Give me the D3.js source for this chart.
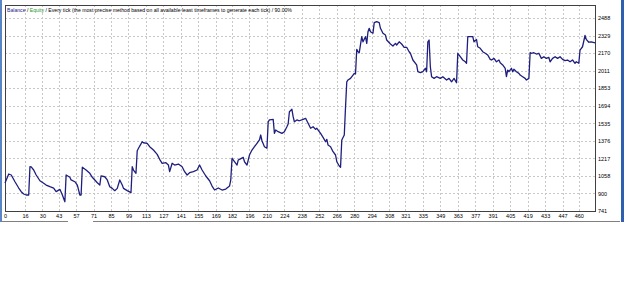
<!DOCTYPE html>
<html>
<head>
<meta charset="utf-8">
<script src="https://cdn.jsdelivr.net/npm/d3@7"></script>
<style>
  body { margin: 0; background: #fff; }
  svg { display: block; font-family: "Liberation Sans", Arial, sans-serif; }
</style>
</head>
<body>
<div id="chart"></div>
<script>
// balance curve (trade number -> balance)
let trades = [0,3,5,8,11,13,15,17,19,20,21,23,25,28,31,33,36,39,41,44,46,48,49,52,53,56,58,60,61,62,65,68,70,72,74,76,77,80,82,84,86,88,90,92,94,95,98,101,102,103,105,106,108,110,111,114,116,119,122,124,126,129,131,132,134,136,139,142,144,146,148,151,154,156,158,161,164,166,168,171,174,177,180,181,182,184,186,187,188,191,192,194,196,198,200,202,204,205,206,208,210,211,212,215,216,217,219,222,224,226,227,228,230,231,232,234,236,239,241,243,245,247,249,250,253,255,257,258,259,261,263,265,266,268,269,270,272,273,274,275,277,279,280,281,282,283,284,286,287,289,290,291,292,293,295,296,298,300,301,303,305,306,309,311,313,314,316,318,320,322,324,325,327,330,331,333,335,337,338,339,340,341,342,344,346,349,351,354,356,358,360,362,363,365,367,369,370,371,373,375,376,378,379,381,383,385,387,389,390,392,393,394,396,397,399,401,402,403,404,406,407,408,410,412,413,415,417,418,420,421,422,424,426,428,430,432,434,436,437,439,441,443,445,447,449,451,453,455,457,458,460,461,463,465,466,468,470,473];
let balance = [994,1076,1067,1006,949,916,895,886,886,1142,1140,1112,1067,1015,992,976,961,949,916,937,886,825,1067,1046,1022,1006,976,886,886,1137,1112,1082,1046,1022,997,976,1058,1051,1022,961,946,925,946,1022,976,946,925,907,1142,1112,1082,1287,1329,1368,1359,1354,1323,1293,1254,1209,1173,1178,1157,1097,1173,1157,1166,1142,1097,1067,1088,1097,1112,1157,1112,1058,1015,967,931,949,931,940,967,1022,1218,1187,1157,1203,1209,1227,1187,1157,1248,1293,1323,1354,1384,1429,1377,1323,1309,1549,1565,1571,1444,1474,1459,1444,1459,1504,1529,1640,1662,1595,1549,1565,1558,1571,1580,1535,1490,1504,1480,1490,1444,1408,1368,1390,1338,1323,1278,1248,1187,1148,1137,1384,1429,1682,1911,1927,1942,1972,1987,1981,2205,2183,2174,2319,2273,2319,2259,2364,2395,2364,2350,2446,2455,2446,2395,2350,2334,2289,2253,2235,2259,2244,2273,2253,2223,2223,2183,2169,2108,2063,2002,1993,2002,2033,2002,2273,2289,2047,1957,1942,1957,1942,1957,1927,1942,1911,1942,1902,2169,2138,2108,2092,2078,2319,2319,2319,2273,2295,2228,2214,2183,2169,2153,2114,2108,2123,2108,2092,2108,2083,2063,2033,1957,2017,2002,2033,2002,2024,2002,1987,1972,1957,1942,1927,1942,2174,2169,2174,2162,2169,2123,2138,2123,2132,2092,2123,2138,2123,2138,2114,2102,2108,2092,2108,2078,2092,2078,2198,2228,2330,2295,2269,2273,2264];

let xTicks = [0,16,30,43,57,71,85,99,113,127,141,155,169,182,196,210,224,238,252,266,280,294,308,321,335,349,363,377,391,405,419,433,447,460];
let yTicks = [741,900,1058,1217,1376,1535,1694,1853,2011,2170,2329,2488];
let titleParts = [
  {text: "Balance", color: "#1a1a8c"},
  {text: " / ", color: "#000"},
  {text: "Equity", color: "#1f9a1f"},
  {text: " / Every tick (the most precise method based on all available least timeframes to generate each tick) / 90.00%", color: "#000"}
];

let width = 625, height = 281;
let plot = {left: 5, top: 5, right: 595, bottom: 211};

let svg = d3.select("#chart").append("svg")
    .attr("width", width)
    .attr("height", height);

let xScale = d3.scaleLinear().domain([0, 473]).range([plot.left, plot.right]);
let yScale = d3.scaleLinear().domain([741, 2606]).range([plot.bottom, plot.top]);

// window frame bits
svg.append("rect").attr("x", 0).attr("y", 0).attr("width", 2).attr("height", 222).attr("fill", "#5b86c5");
svg.append("rect").attr("x", 621).attr("y", 0).attr("width", 3).attr("height", 222).attr("fill", "#2f5fb0");
svg.append("line").attr("x1", 2).attr("x2", 68).attr("y1", 221.5).attr("y2", 221.5).attr("stroke", "#808080");
svg.append("line").attr("x1", 93).attr("x2", 620).attr("y1", 221.5).attr("y2", 221.5).attr("stroke", "#808080");

// grid
let grid = svg.append("g").attr("stroke", "#c8c8c8").attr("stroke-dasharray", "2,2").attr("stroke-width", 1);
grid.selectAll(".vg").data(xTicks.slice(1)).enter().append("line")
    .attr("x1", d => Math.round(xScale(d)) + 0.5).attr("x2", d => Math.round(xScale(d)) + 0.5)
    .attr("y1", plot.top).attr("y2", plot.bottom);
grid.selectAll(".hg").data(yTicks.slice(1)).enter().append("line")
    .attr("x1", plot.left).attr("x2", plot.right)
    .attr("y1", d => Math.round(yScale(d)) + 0.5).attr("y2", d => Math.round(yScale(d)) + 0.5);

// axes
let xAxis = d3.axisBottom(xScale).tickValues(xTicks).tickSize(0).tickPadding(3).tickFormat(d3.format("d"));
let gx = svg.append("g").attr("transform", "translate(0," + plot.bottom + ")").call(xAxis);
gx.select(".domain").remove();
gx.selectAll("text").attr("font-size", "5.5px").attr("fill", "#000").attr("font-family", "Liberation Sans, Arial, sans-serif");

let yAxis = d3.axisRight(yScale).tickValues(yTicks).tickSize(0).tickPadding(3).tickFormat(d3.format("d"));
let gy = svg.append("g").attr("transform", "translate(" + plot.right + ",0)").call(yAxis);
gy.select(".domain").remove();
gy.selectAll("text").attr("font-size", "5.5px").attr("fill", "#000").attr("font-family", "Liberation Sans, Arial, sans-serif");

// plot border
svg.append("rect")
    .attr("x", plot.left + 0.5).attr("y", plot.top + 0.5)
    .attr("width", plot.right - plot.left).attr("height", plot.bottom - plot.top)
    .attr("fill", "none").attr("stroke", "#404040").attr("stroke-width", 1);

// balance line
let points = trades.map((t, i) => ({t: t, v: balance[i]}));
let line = d3.line().x(d => xScale(d.t)).y(d => yScale(d.v));
svg.append("path")
    .datum(points)
    .attr("d", line)
    .attr("fill", "none")
    .attr("stroke", "#1e1e7e")
    .attr("stroke-width", 1.3)
    .attr("stroke-linejoin", "round");

// title, sized so it spans the same width as the original
let title = svg.append("text")
    .attr("x", 7).attr("y", 12)
    .attr("font-size", "6px");
title.selectAll("tspan").data(titleParts).enter().append("tspan")
    .attr("fill", d => d.color)
    .text(d => d.text);
let len = title.node().getComputedTextLength();
if (len > 0) title.attr("font-size", (6 * 286 / len).toFixed(2) + "px");
</script>
</body>
</html>
